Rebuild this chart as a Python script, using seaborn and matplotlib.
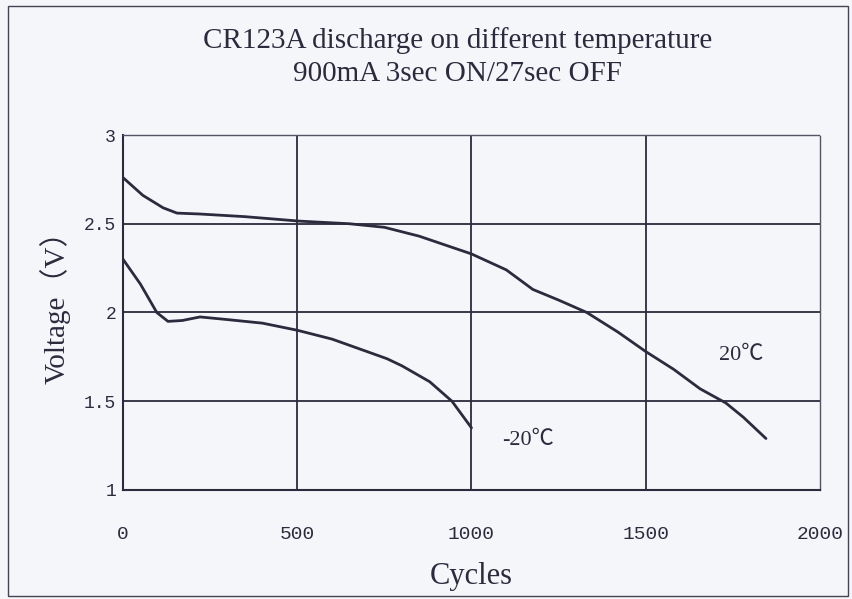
import pandas as pd
import matplotlib
matplotlib.use("Agg")
import matplotlib.pyplot as plt
import seaborn as sns
from matplotlib.patches import Rectangle

# curve readings
cycles_20 = [0, 57, 115, 155, 220, 350, 505, 650, 750, 850, 1000, 1100, 1176,
             1250, 1331, 1420, 1500, 1580, 1656, 1730, 1780, 1845]
volts_20 = [2.76, 2.66, 2.59, 2.56, 2.555, 2.54, 2.515, 2.50, 2.48, 2.43, 2.33,
            2.24, 2.13, 2.07, 2.00, 1.89, 1.78, 1.68, 1.57, 1.49, 1.41, 1.29]

cycles_m20 = [0, 50, 97, 129, 170, 221, 300, 400, 500, 600, 700, 757, 800,
              880, 944, 1000]
volts_m20 = [2.30, 2.16, 2.00, 1.95, 1.955, 1.975, 1.96, 1.94, 1.90, 1.85,
             1.78, 1.74, 1.70, 1.61, 1.50, 1.35]

series_names = ["20℃", "-20℃"]
x_ticks = [0, 500, 1000, 1500, 2000]
y_ticks = [1, 1.5, 2, 2.5, 3]
y_tick_labels = ["1", "1.5", "2", "2.5", "3"]

df = pd.concat([
    pd.DataFrame({"Cycles": cycles_20, "Voltage": volts_20, "Temp": series_names[0]}),
    pd.DataFrame({"Cycles": cycles_m20, "Voltage": volts_m20, "Temp": series_names[1]}),
])

sns.set_style("white")
serif = ["Liberation Serif", "Noto Sans CJK SC"]
ink = "#2b2b3d"
bg = "#f5f6fa"

fig = plt.figure(figsize=(8.53, 5.99), dpi=100, facecolor=bg)
ax = fig.add_axes([0.1442, 0.182, 0.8171, 0.5926])
ax.set_facecolor(bg)

sns.lineplot(data=df, x="Cycles", y="Voltage", hue="Temp", sort=False,
             palette={n: ink for n in series_names}, linewidth=2.0,
             legend=False, ax=ax)

ax.set_xlim(0, 2000)
ax.set_ylim(1, 3)
ax.set_xticks(x_ticks)
ax.set_yticks(y_ticks)
ax.set_xticklabels([str(t) for t in x_ticks], fontfamily="Liberation Mono",
                   fontsize=14, color=ink)
ax.set_yticklabels(y_tick_labels, fontfamily="Liberation Mono", fontsize=13, color=ink)
ax.tick_params(axis="x", length=0, pad=26)
ax.tick_params(axis="y", length=0, pad=5)

for v in x_ticks[1:-1]:
    ax.axvline(v, color=ink, linewidth=1.3, zorder=1)
for v in y_ticks[1:-1]:
    ax.axhline(v, color=ink, linewidth=1.3, zorder=1)

for side in ["left", "bottom"]:
    ax.spines[side].set_color(ink)
    ax.spines[side].set_linewidth(1.5)
for side in ["top", "right"]:
    ax.spines[side].set_color("#555566")
    ax.spines[side].set_linewidth(1.0)
    ax.spines[side].set_linestyle((0, (1, 1)))

ax.set_xlabel("Cycles", fontfamily=serif, fontsize=22, color=ink)
ax.set_ylabel("Voltage（V）", fontfamily=serif, fontsize=21, color=ink)
ax.xaxis.set_label_coords(0.5, -0.245)
ax.yaxis.set_label_coords(-0.098, 0.535)
ax.xaxis.label.set_va("center")
ax.yaxis.label.set_va("center")

ax.text(1775, 1.76, series_names[0], fontfamily=serif, fontsize=16, color=ink,
        ha="center", va="center")
ax.text(1163, 1.28, series_names[1], fontfamily=serif, fontsize=16, color=ink,
        ha="center", va="center")

fig.text(0.536, 0.932, "CR123A discharge on different temperature",
         fontfamily=serif, fontsize=21, color=ink, ha="center", va="center")
fig.text(0.536, 0.877, "900mA 3sec ON/27sec OFF",
         fontfamily=serif, fontsize=21, color=ink, ha="center", va="center")

# scan frame around the sheet
fig.patches.append(Rectangle((0.009, 0.005), 0.985, 0.985, transform=fig.transFigure,
                             fill=False, edgecolor="#444455", linewidth=1.0))

fig.savefig("out.png", dpi=100, facecolor=bg)
